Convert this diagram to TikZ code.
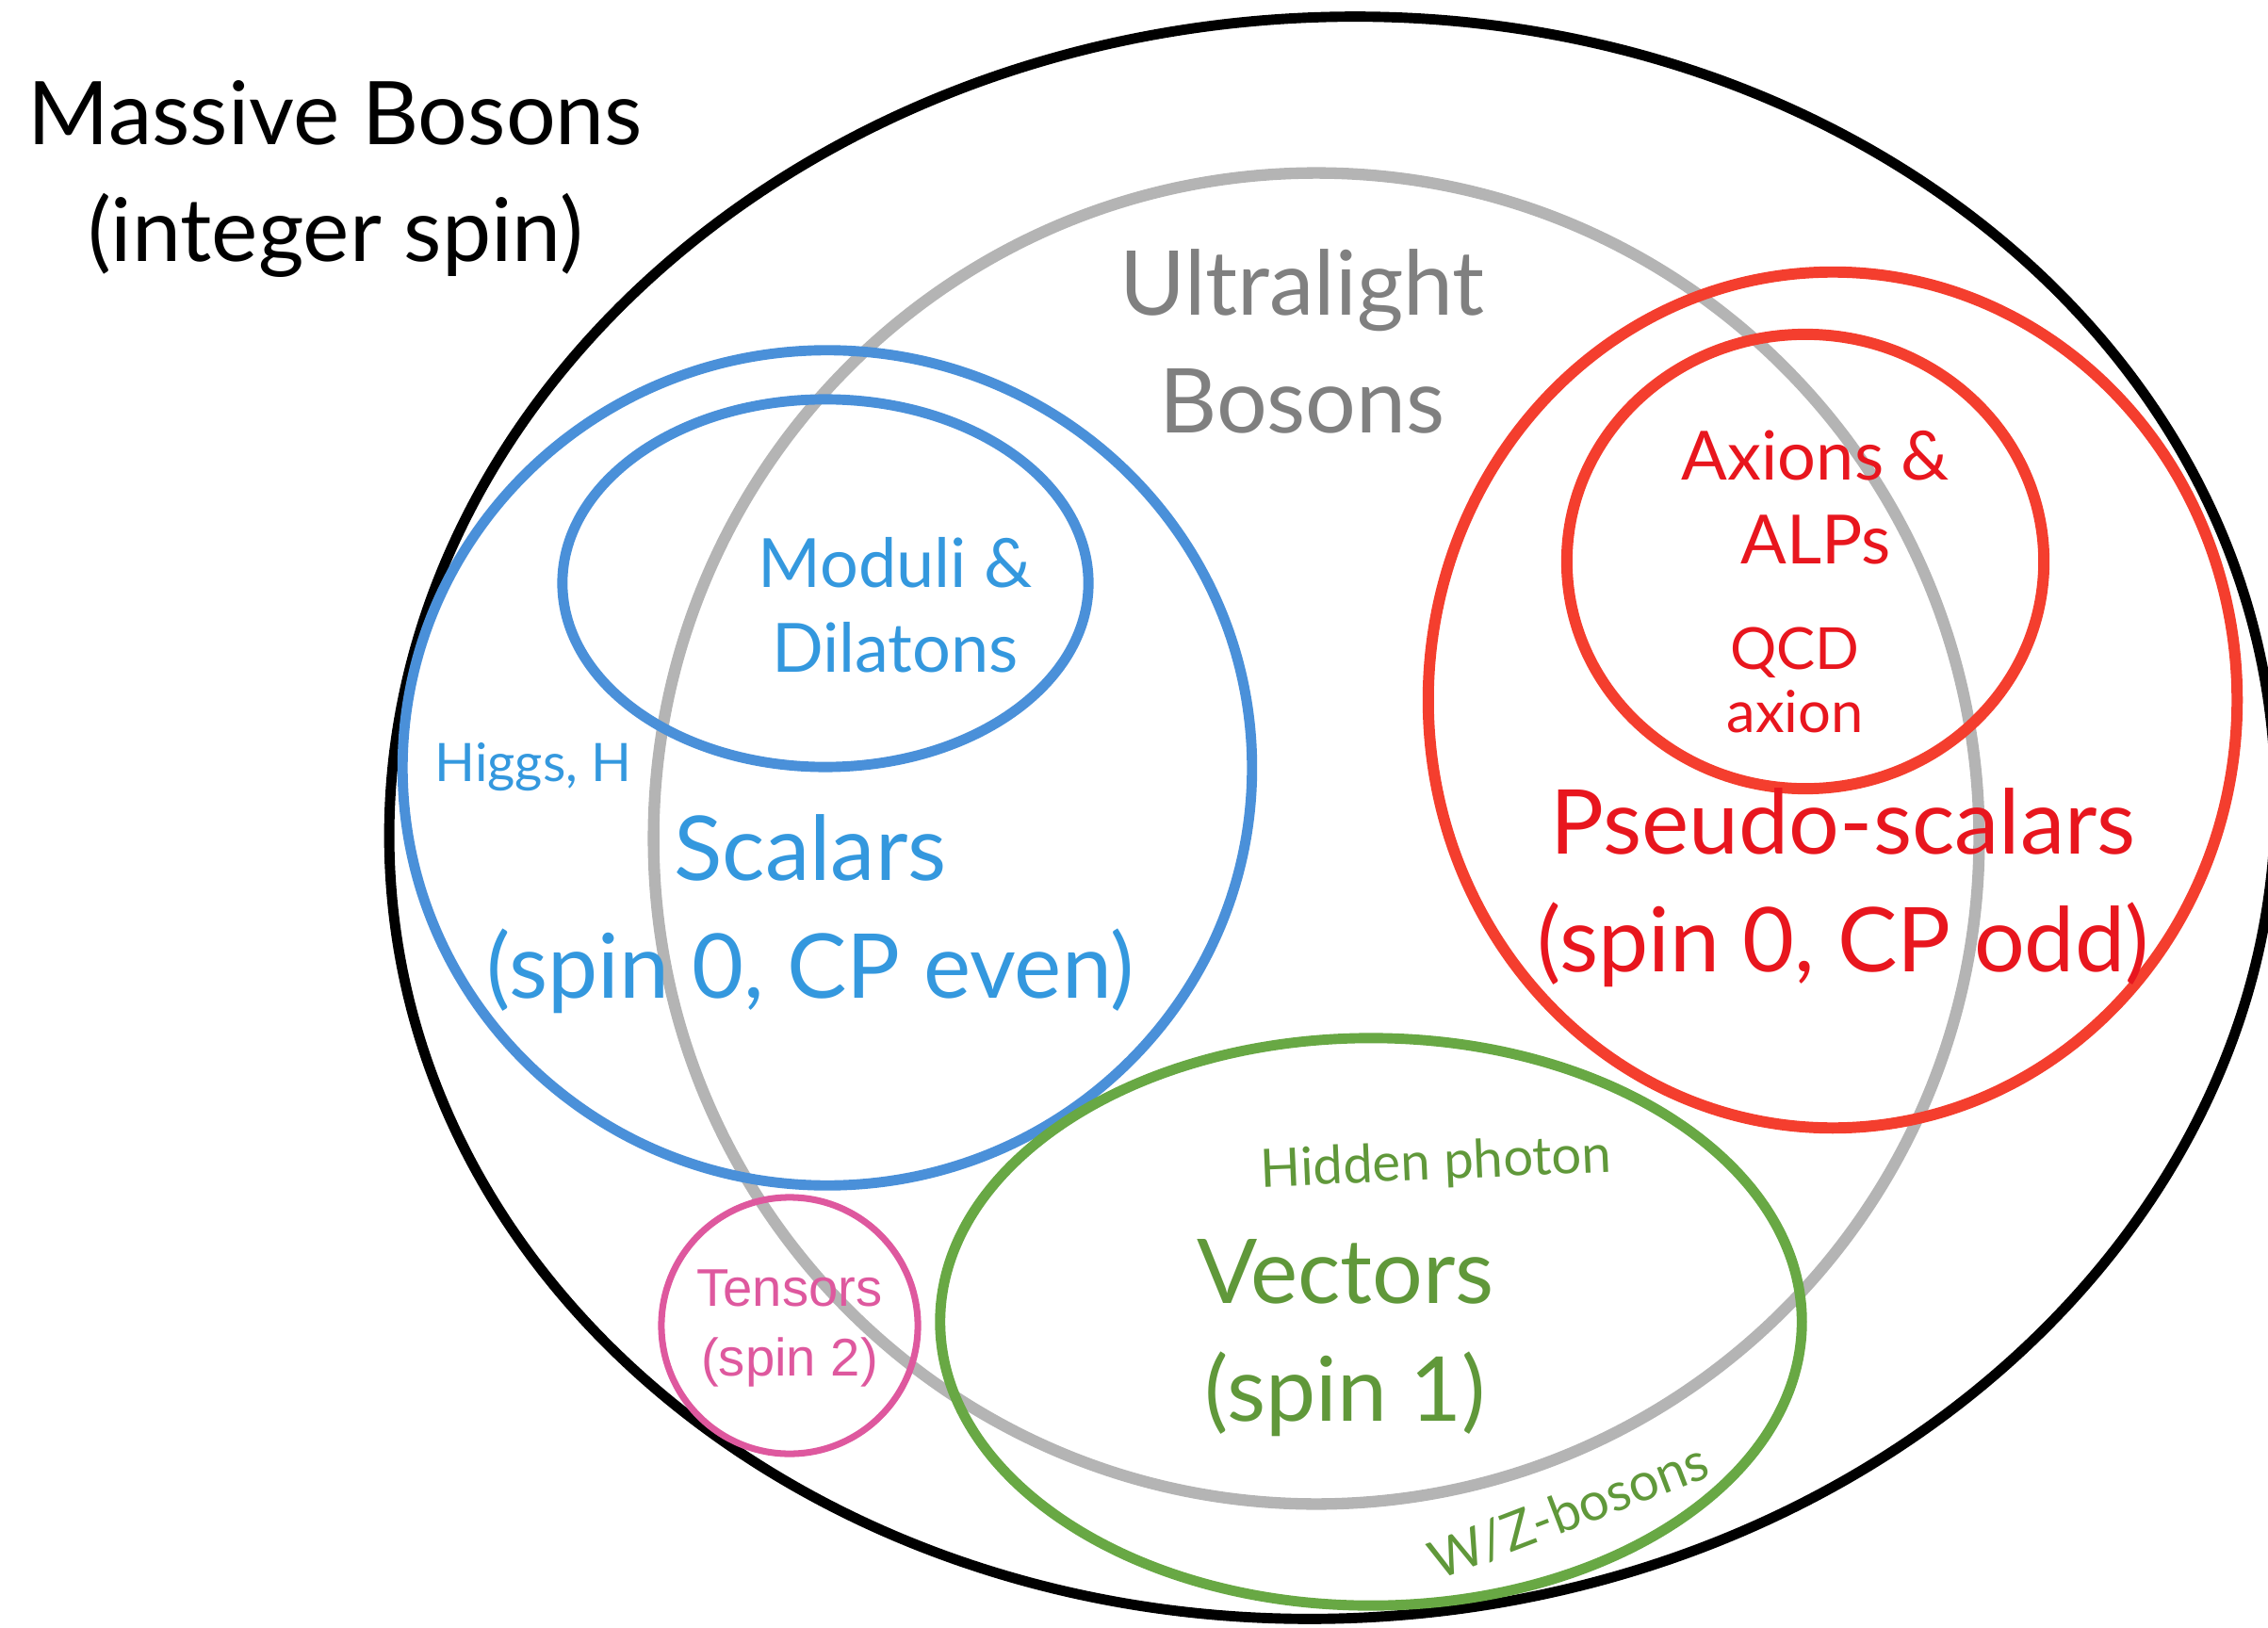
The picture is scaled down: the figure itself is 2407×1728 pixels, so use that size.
\documentclass[tikz,border=0pt]{standalone}
\usepackage{fontspec}
\setmainfont{Lato}
\newfontfamily\helv{Liberation Sans}
\usetikzlibrary{shapes.geometric}

\definecolor{blueline}{RGB}{74,144,217}
\definecolor{bluetext}{RGB}{52,152,222}
\definecolor{redline}{RGB}{244,62,46}
\definecolor{redtext}{RGB}{232,22,30}
\definecolor{grayline}{RGB}{180,180,180}
\definecolor{graytext}{RGB}{128,128,128}
\definecolor{greenline}{RGB}{104,168,68}
\definecolor{greentext}{RGB}{96,152,58}
\definecolor{pinkline}{RGB}{222,88,158}

\tikzset{
  ring/.style={draw, ellipse, inner sep=0pt, fill=none, line width=3.1pt},
  lbl/.style={inner sep=0pt, align=center},
  big/.style={lbl, font=\fontsize{27}{35.5}\selectfont},
  mid/.style={lbl, font=\fontsize{20.5}{25.5}\selectfont},
  small/.style={lbl, font=\fontsize{16}{19}\selectfont},
}

\begin{document}
\begin{tikzpicture}[x=0.01cm, y=-0.01cm]
\useasboundingbox (0,0) rectangle (2407,1728);

% outer set, slightly tilted
\node[ring, draw=black, rotate=4, minimum width=20.02cm, minimum height=16.98cm] (massive) at (1414,868) {};

% inner sets
\node[ring, draw=grayline, line width=3.5pt, minimum width=14.06cm, minimum height=14.12cm] (ultra) at (1397,890) {};
\node[ring, draw=blueline, minimum width=9.01cm, minimum height=8.86cm] (scal) at (878,815) {};
\node[ring, draw=blueline, minimum width=5.58cm, minimum height=3.90cm] (mod) at (876,619) {};
\node[ring, draw=redline, line width=3.4pt, minimum width=8.58cm, minimum height=9.08cm] (pseudo) at (1945,743) {};
\node[ring, draw=redline, line width=3.4pt, minimum width=5.06cm, minimum height=4.82cm] (axion) at (1916,596) {};
\node[ring, draw=greenline, minimum width=9.14cm, minimum height=6.02cm] (vec) at (1455,1403) {};
\node[ring, draw=pinkline, line width=2pt, minimum width=2.72cm, minimum height=2.72cm] (tens) at (838,1407) {};

% labels
\node[lbl, font=\fontsize{26.5}{35.5}\selectfont] (tMassive) at (356,190) {Massive Bosons\\(integer spin)};
\node[big, text=graytext] (tUltra) at (1382,362) {Ultralight\\Bosons};
\node[mid, text=bluetext] (tMod) at (950,642) {Moduli \&\\Dilatons};
\node[small, text=bluetext] (tHiggs) at (566,814) {Higgs, H};
\node[big, text=bluetext] (tScal) at (860,970) {Scalars\\(spin 0, CP even)};
\node[mid, text=redtext] (tAxion) at (1927,528) {Axions \&\\ALPs};
\node[lbl, font=\fontsize{17.5}{19}\selectfont, text=redtext] (tQCD) at (1905,722) {QCD\\axion};
\node[big, text=redtext] (tPseudo) at (1956,942) {Pseudo-scalars\\(spin 0, CP odd)};
\node[small, text=greentext, rotate=2.5] (tHidden) at (1524,1236) {Hidden photon};
\node[big, text=greentext] (tVec) at (1428,1420) {Vectors\\(spin 1)};
\node[small, text=greentext, rotate=21] (tWZ) at (1665,1604) {W/Z-bosons};
\node[lbl, font=\helv\fontsize{16}{21}\selectfont, text=pinkline] (tTens) at (838,1410) {Tensors\\(spin 2)};
\end{tikzpicture}
\end{document}
